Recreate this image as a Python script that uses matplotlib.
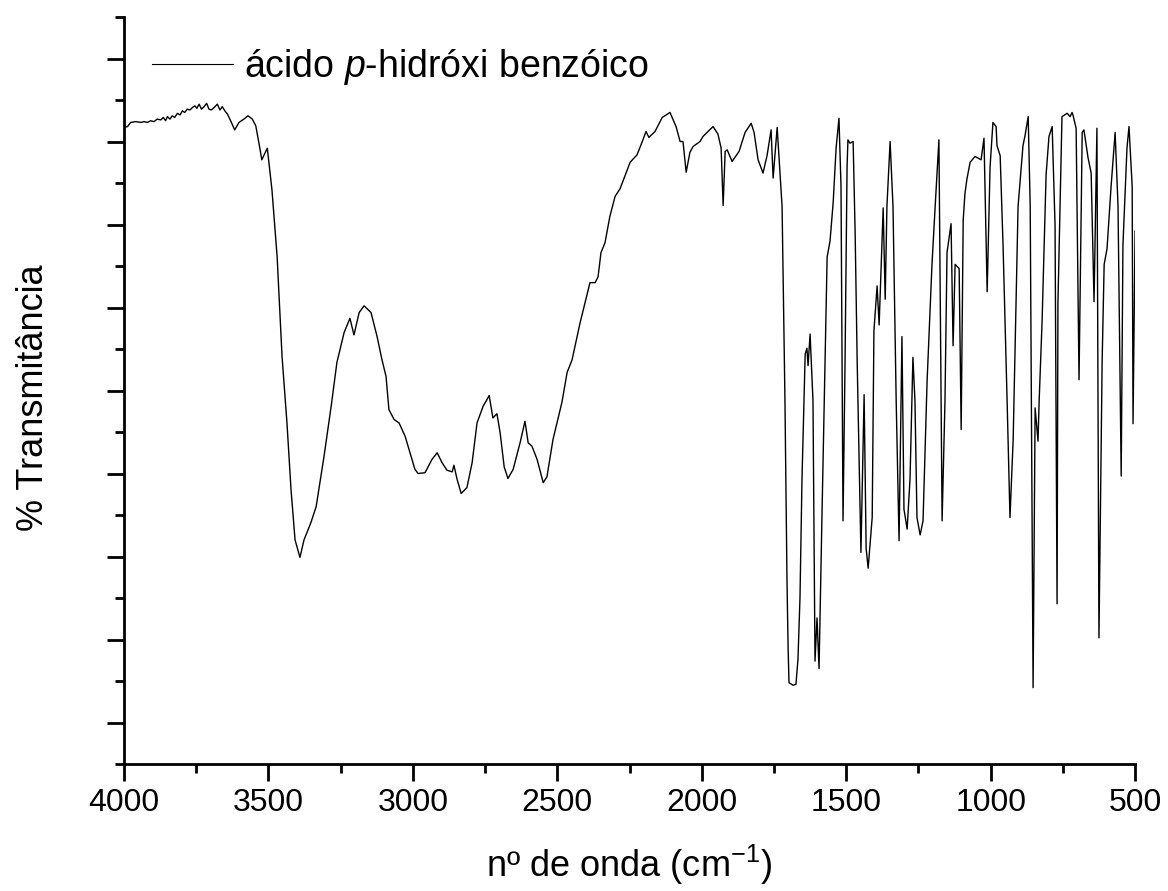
import matplotlib
matplotlib.use("Agg")
import matplotlib.pyplot as plt

# IR spectrum of p-hydroxybenzoic acid (wavenumber in cm^-1, transmittance in %)
wavenumber = [
    4000, 3988, 3977, 3960, 3942, 3931, 3919, 3908, 3896, 3885, 3873, 3864, 3856,
    3850, 3841, 3833, 3825, 3815, 3806, 3798, 3790, 3781, 3772, 3763, 3755, 3748,
    3740, 3732, 3723, 3714, 3706, 3698, 3688, 3677, 3668, 3660, 3651, 3642, 3631,
    3617, 3602, 3585, 3571, 3556, 3544, 3533, 3523, 3504,
    3488, 3470, 3453, 3436, 3422, 3408, 3391, 3377, 3353, 3335, 3308, 3283, 3263,
    3238, 3218, 3204, 3186, 3169, 3145, 3124, 3107, 3093, 3083, 3065, 3048, 3027,
    3010, 2993, 2982, 2958, 2934, 2916, 2899, 2882, 2864, 2858, 2847, 2833, 2813,
    2795, 2778, 2757, 2747, 2736, 2723, 2709, 2698, 2684, 2671, 2653, 2629, 2612,
    2601, 2588, 2570, 2549, 2536, 2515, 2484, 2466, 2449, 2421, 2387, 2369, 2359,
    2349, 2335, 2318, 2300, 2283, 2248, 2224, 2207, 2193, 2183, 2162, 2137, 2110,
    2089, 2075, 2065, 2054, 2041, 2030, 2006, 1996, 1961, 1944, 1933, 1926, 1919,
    1912, 1895, 1871, 1850, 1829, 1819, 1805, 1788, 1774, 1760, 1753, 1739, 1722,
    1712, 1705, 1701, 1698, 1684, 1674, 1667, 1660, 1653, 1642, 1636, 1632, 1625,
    1615, 1608, 1601, 1594, 1584, 1573, 1566, 1556, 1545, 1535, 1525, 1518, 1511,
    1504, 1497, 1494, 1487, 1476, 1469, 1462, 1449, 1438, 1431, 1424, 1410, 1404,
    1393, 1386, 1372, 1365, 1359, 1348, 1338, 1327, 1317, 1307, 1300, 1289, 1279,
    1269, 1262, 1255, 1244, 1234, 1220, 1203, 1192, 1179, 1168, 1158, 1151, 1137,
    1130, 1123, 1109, 1102, 1095, 1089, 1082, 1071, 1054, 1033, 1023, 1012, 1002,
    992, 981, 978, 967, 957, 943, 933, 922, 905, 888, 881, 870, 863, 853, 846,
    836, 832, 822, 808, 798, 787, 777, 770, 767, 753, 735, 725, 718, 715, 704,
    694, 683, 677, 666, 663, 652, 642, 632, 625, 614, 607, 597, 583, 569, 559,
    548, 542, 528, 521, 510, 507, 500,
]
transmittance = [
    71.7, 71.8, 72.3, 72.4, 72.3, 72.4, 72.3, 72.5, 72.4, 72.7, 72.6, 72.9, 72.5,
    73.0, 72.7, 73.1, 72.9, 73.4, 73.2, 73.7, 73.5, 73.9, 73.8, 74.1, 74.3, 74.0,
    74.5, 73.9, 74.2, 74.6, 73.9, 73.8, 74.1, 74.5, 73.8, 74.2, 73.7, 73.3, 72.5,
    71.4, 72.3, 72.7, 73.1, 72.7, 71.9, 69.8, 67.8, 69.2,
    64.2, 56.1, 44.1, 36.1, 28.1, 22.0, 19.9, 22.0, 24.1, 26.0, 32.0, 38.1, 43.4,
    47.0, 48.7, 46.7, 49.4, 50.2, 49.4, 46.5, 43.7, 41.7, 37.7, 36.5, 36.1, 34.5,
    32.5, 30.5, 30.0, 30.1, 31.7, 32.5, 31.3, 30.4, 30.2, 31.0, 29.3, 27.6, 28.3,
    31.3, 36.1, 38.1, 38.7, 39.4, 36.7, 37.2, 34.9, 30.8, 29.4, 30.5, 33.7, 36.3,
    33.7, 33.3, 31.7, 28.9, 29.6, 34.1, 38.6, 42.2, 43.7, 48.2, 53.0, 53.0, 53.7,
    56.6, 57.8, 61.0, 63.4, 64.3, 67.5, 68.4, 69.9, 71.2, 70.5, 71.2, 72.9, 73.5,
    71.8, 70.0, 70.0, 66.3, 68.7, 69.4, 70.0, 70.6, 71.8, 70.9, 69.2, 62.3, 68.8,
    69.0, 67.6, 68.8, 71.1, 72.2, 71.1, 67.8, 66.2, 68.3, 71.4, 65.6, 71.7, 62.2,
    38.8, 17.2, 8.8, 4.8, 4.5, 4.6, 7.6, 15.0, 29.4, 44.4, 45.1, 43.0, 46.8,
    38.8, 7.4, 12.6, 6.5, 24.7, 43.5, 56.1, 58.0, 62.7, 69.2, 72.8, 64.6, 24.3,
    43.5, 66.9, 70.2, 69.8, 70.0, 58.9, 43.5, 20.5, 39.5, 21.0, 18.6, 24.7, 47.2,
    52.6, 47.9, 62.0, 51.0, 62.2, 70.0, 62.2, 38.8, 21.9, 46.5, 25.7, 23.3, 29.4,
    44.0, 38.8, 24.7, 22.6, 24.3, 41.1, 55.2, 62.2, 70.2, 24.3, 38.8, 56.6, 60.1,
    45.4, 55.2, 54.7, 35.3, 60.5, 63.7, 65.5, 67.5, 68.2, 67.8, 70.4, 51.9, 66.9,
    72.3, 71.8, 69.5, 68.3, 57.5, 38.8, 24.7, 34.1, 62.2, 69.5, 70.7, 73.0, 62.2, 4.2, 37.9,
    33.9, 38.8, 48.2, 66.0, 70.6, 71.8, 59.9, 14.3, 50.5, 73.0, 73.4, 73.0, 73.5, 73.2, 71.6,
    41.3, 71.1, 71.4, 68.8, 68.1, 66.2, 50.7, 71.6, 10.2, 43.5, 55.2, 57.1, 64.6, 71.1, 62.2,
    29.7, 57.5, 69.2, 71.8, 64.6, 36.0, 59.2,
]

series_label = "ácido $\\mathit{p}$-hidróxi benzóico"
x_label = "nº de onda (cm$^{-1}$)"
y_label = "% Transmitância"
x_major_ticks = [4000, 3500, 3000, 2500, 2000, 1500, 1000, 500]
x_minor_ticks = [3750, 3250, 2750, 2250, 1750, 1250, 750]
y_major_ticks = [0, 10, 20, 30, 40, 50, 60, 70, 80]
y_minor_ticks = [-5, 5, 15, 25, 35, 45, 55, 65, 75, 85]

plt.rcParams["font.family"] = ["Liberation Sans", "DejaVu Sans"]
plt.rcParams["mathtext.fontset"] = "custom"
plt.rcParams["mathtext.rm"] = "Liberation Sans"
plt.rcParams["mathtext.it"] = "Liberation Sans:italic"

fig = plt.figure(figsize=(11.68, 8.91), dpi=100)
ax = fig.add_axes([0.1062, 0.1425, 0.8656, 0.8384])

ax.plot(wavenumber, transmittance, color="black", lw=1.0, label=series_label)

ax.set_xlim(4000, 500)
ax.set_ylim(-5, 85)
ax.set_xticks(x_major_ticks)
ax.set_xticks(x_minor_ticks, minor=True)
ax.set_yticks(y_major_ticks)
ax.set_yticks(y_minor_ticks, minor=True)

for side in ("top", "right"):
    ax.spines[side].set_visible(False)
for side in ("left", "bottom"):
    ax.spines[side].set_linewidth(2.0)

ax.tick_params(which="major", direction="out", length=12, width=2.0,
               labelsize=23, pad=5)
ax.tick_params(which="minor", direction="out", length=6.5, width=2.0)
ax.tick_params(axis="y", which="both", labelleft=False)

ax.set_xlabel(x_label, fontsize=26)
ax.xaxis.set_label_coords(0.5, -0.105)
ax.set_ylabel(y_label, fontsize=26)
ax.yaxis.set_label_coords(-0.072, 0.49)

leg = ax.legend(loc="center left", bbox_to_anchor=(0.0277, 0.933), frameon=False,
                fontsize=27, handlelength=2.15, handletextpad=0.3,
                borderpad=0, borderaxespad=0)
for line in leg.get_lines():
    line.set_linewidth(0.8)

fig.savefig("out.png", dpi=100)
